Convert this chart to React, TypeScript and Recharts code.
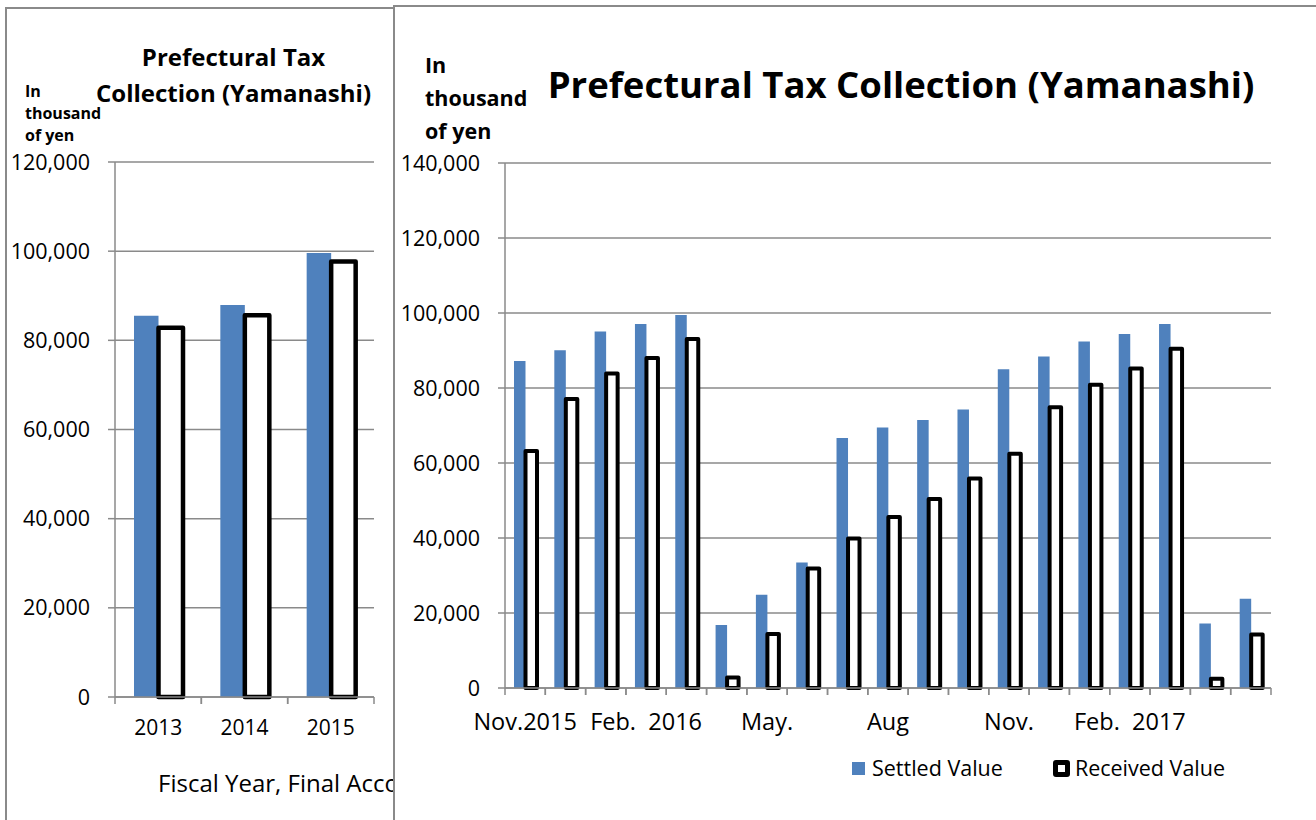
import React from "react";
import { BarChart, Bar, XAxis, YAxis, CartesianGrid } from "recharts";

// fiscal year totals (left chart)
const FY_YEARS = ["2013", "2014", "2015"];
const FY_SETTLED = [85500, 87900, 99600];
const FY_RECEIVED = [82800, 85600, 97700];
const FY_TICKS = [0, 20000, 40000, 60000, 80000, 100000, 120000];

// monthly cumulative values (right chart)
const MONTHS = [
  "2015-11", "2015-12", "2016-01", "2016-02", "2016-03", "2016-04", "2016-05",
  "2016-06", "2016-07", "2016-08", "2016-09", "2016-10", "2016-11", "2016-12",
  "2017-01", "2017-02", "2017-03", "2017-04", "2017-05",
];
const MONTH_LABELS = [
  "Nov.2015", "", "", "Feb.  2016", "", "", "May.", "", "", "Aug", "", "",
  "Nov.", "", "", "Feb.  2017", "", "", "",
];
const MONTHLY_SETTLED = [
  87200, 90100, 95100, 97100, 99500, 16800, 24900, 33500, 66700, 69500,
  71500, 74300, 85000, 88400, 92400, 94400, 97100, 17200, 23800,
];
const MONTHLY_RECEIVED = [
  63200, 77100, 83900, 88000, 93100, 2800, 14400, 31900, 39900, 45600,
  50400, 55900, 62500, 74900, 80900, 85200, 90500, 2500, 14300,
];
const MONTHLY_TICKS = [0, 20000, 40000, 60000, 80000, 100000, 120000, 140000];

const UNIT_LINES = ["In", "thousand", "of yen"];

const BLUE = "#4F81BD";
const GRID = "#8a8a8a";
const FONT = "'Open Sans', Lato, sans-serif";

const fyData = FY_YEARS.map((year, i) => ({
  year,
  settled: FY_SETTLED[i],
  received: FY_RECEIVED[i],
}));

const monthlyData = MONTHS.map((month, i) => ({
  month,
  settled: MONTHLY_SETTLED[i],
  received: MONTHLY_RECEIVED[i],
}));

const fmt = (v: number) => v.toLocaleString("en-US");

// Excel style category axis: tick marks on the category boundaries
function boundaryTick(
  keys: string[],
  labels: string[],
  half: number,
  axisY: number,
  gap: number,
  fontSize: number
) {
  return (props: any) => {
    const { x, payload } = props;
    const i = keys.indexOf(payload.value);
    return (
      <g>
        <line x1={x - half} x2={x - half} y1={axisY} y2={axisY + 7} stroke={GRID} strokeWidth={1.5} />
        <line x1={x + half} x2={x + half} y1={axisY} y2={axisY + 7} stroke={GRID} strokeWidth={1.5} />
        <text
          x={x}
          y={axisY + gap}
          dy="0.71em"
          textAnchor="middle"
          fontSize={fontSize}
          fill="#000"
          style={{ whiteSpace: "pre" }}
        >
          {labels[i]}
        </text>
      </g>
    );
  };
}

const abs = (left: number, top: number): React.CSSProperties => ({
  position: "absolute",
  left,
  top,
});

// unit caption, one tight box per line
function Unit({ left, top, size, step }: { left: number; top: number; size: number; step: number }) {
  return (
    <>
      {UNIT_LINES.map((line, i) => (
        <div
          key={line}
          style={{ ...abs(left, top + i * step), fontWeight: 700, fontSize: size, lineHeight: 1, whiteSpace: "nowrap" }}
        >
          {line}
        </div>
      ))}
    </>
  );
}

export default function App() {
  // left plot: x 115..374, y 162..697 (page coords, svg at 0,0)
  // right plot: x 505..1271, y 163..688 (svg at 393,0)
  return (
    <div
      style={{
        position: "absolute",
        left: 0,
        top: 0,
        width: 1316,
        height: 820,
        overflow: "hidden",
        background: "#fff",
        fontFamily: FONT,
        color: "#000",
      }}
    >
      {/* left chart frame */}
      <div
        style={{
          ...abs(5, 7),
          width: 400,
          height: 900,
          borderLeft: `2px solid ${GRID}`,
          borderTop: `2px solid ${GRID}`,
          boxSizing: "border-box",
        }}
      />
      <div style={{ ...abs(60, 39), width: 347, textAlign: "center", fontWeight: 700, fontSize: 24, lineHeight: "36px", whiteSpace: "nowrap" }}>
        Prefectural Tax
        <br />
        Collection (Yamanashi)
      </div>
      <Unit left={25} top={83} size={16} step={22} />
      <div style={{ ...abs(158, 766), fontSize: 24, whiteSpace: "nowrap" }}>Fiscal Year, Final Accounts</div>
      <div style={abs(0, 0)}>
        <BarChart
          width={393}
          height={820}
          data={fyData}
          margin={{ top: 162, right: 19, bottom: 83, left: 15 }}
          barGap={0}
          barSize={24.5}
          style={{ fontFamily: FONT }}
        >
          <CartesianGrid vertical={false} stroke={GRID} strokeWidth={1.5} />
          <XAxis
            dataKey="year"
            height={40}
            interval={0}
            axisLine={{ stroke: GRID, strokeWidth: 1.5 }}
            tickLine={false}
            tick={boundaryTick(FY_YEARS, FY_YEARS, (374 - 115) / FY_YEARS.length / 2, 697, 23, 21)}
          />
          <YAxis
            width={100}
            domain={[0, 120000]}
            ticks={FY_TICKS}
            interval={0}
            tickFormatter={fmt}
            axisLine={{ stroke: GRID, strokeWidth: 1.5 }}
            tickLine={{ stroke: GRID, strokeWidth: 1.5 }}
            tickSize={7}
            tickMargin={18}
            tick={{ fill: "#000", fontSize: 21.5 }}
          />
          <Bar dataKey="settled" fill={BLUE} isAnimationActive={false} />
          <Bar
            dataKey="received"
            fill="#fff"
            stroke="#000"
            strokeWidth={4.5}
            strokeLinejoin="round"
            isAnimationActive={false}
          />
        </BarChart>
      </div>

      {/* right chart frame, covers the left one */}
      <div
        style={{
          ...abs(393, 5),
          width: 1000,
          height: 900,
          background: "#fff",
          borderLeft: `2px solid ${GRID}`,
          borderTop: `2px solid ${GRID}`,
          boxSizing: "border-box",
        }}
      />
      <Unit left={425} top={54} size={21.5} step={33} />
      <div style={{ ...abs(540, 61), width: 722, textAlign: "center", fontWeight: 700, fontSize: 36.5, lineHeight: "46px", whiteSpace: "nowrap" }}>
        Prefectural Tax Collection (Yamanashi)
      </div>
      <div style={abs(393, 0)}>
        <BarChart
          width={923}
          height={820}
          data={monthlyData}
          margin={{ top: 163, right: 45, bottom: 92, left: 12 }}
          barGap={0}
          barSize={11.5}
          style={{ fontFamily: FONT }}
        >
          <CartesianGrid vertical={false} stroke={GRID} strokeWidth={1.5} />
          <XAxis
            dataKey="month"
            height={40}
            interval={0}
            axisLine={{ stroke: GRID, strokeWidth: 1.5 }}
            tickLine={false}
            tick={boundaryTick(MONTHS, MONTH_LABELS, (1271 - 505) / MONTHS.length / 2, 688, 25, 23.5)}
          />
          <YAxis
            width={100}
            domain={[0, 140000]}
            ticks={MONTHLY_TICKS}
            interval={0}
            tickFormatter={fmt}
            axisLine={{ stroke: GRID, strokeWidth: 1.5 }}
            tickLine={{ stroke: GRID, strokeWidth: 1.5 }}
            tickSize={7}
            tickMargin={18}
            tick={{ fill: "#000", fontSize: 21.5 }}
          />
          <Bar dataKey="settled" fill={BLUE} isAnimationActive={false} />
          <Bar
            dataKey="received"
            fill="#fff"
            stroke="#000"
            strokeWidth={4}
            strokeLinejoin="round"
            isAnimationActive={false}
          />
        </BarChart>
      </div>

      {/* legend */}
      <div style={{ ...abs(852, 754), display: "flex", alignItems: "center", fontSize: 21.5, lineHeight: "28px", whiteSpace: "nowrap" }}>
        <span style={{ width: 13, height: 13, background: BLUE, display: "inline-block", marginRight: 7 }} />
        <span>Settled Value</span>
        <span
          style={{
            width: 7,
            height: 7,
            border: "5.5px solid #000",
            borderRadius: 3,
            background: "#fff",
            display: "inline-block",
            marginLeft: 50,
            marginRight: 5,
          }}
        />
        <span>Received Value</span>
      </div>
    </div>
  );
}
